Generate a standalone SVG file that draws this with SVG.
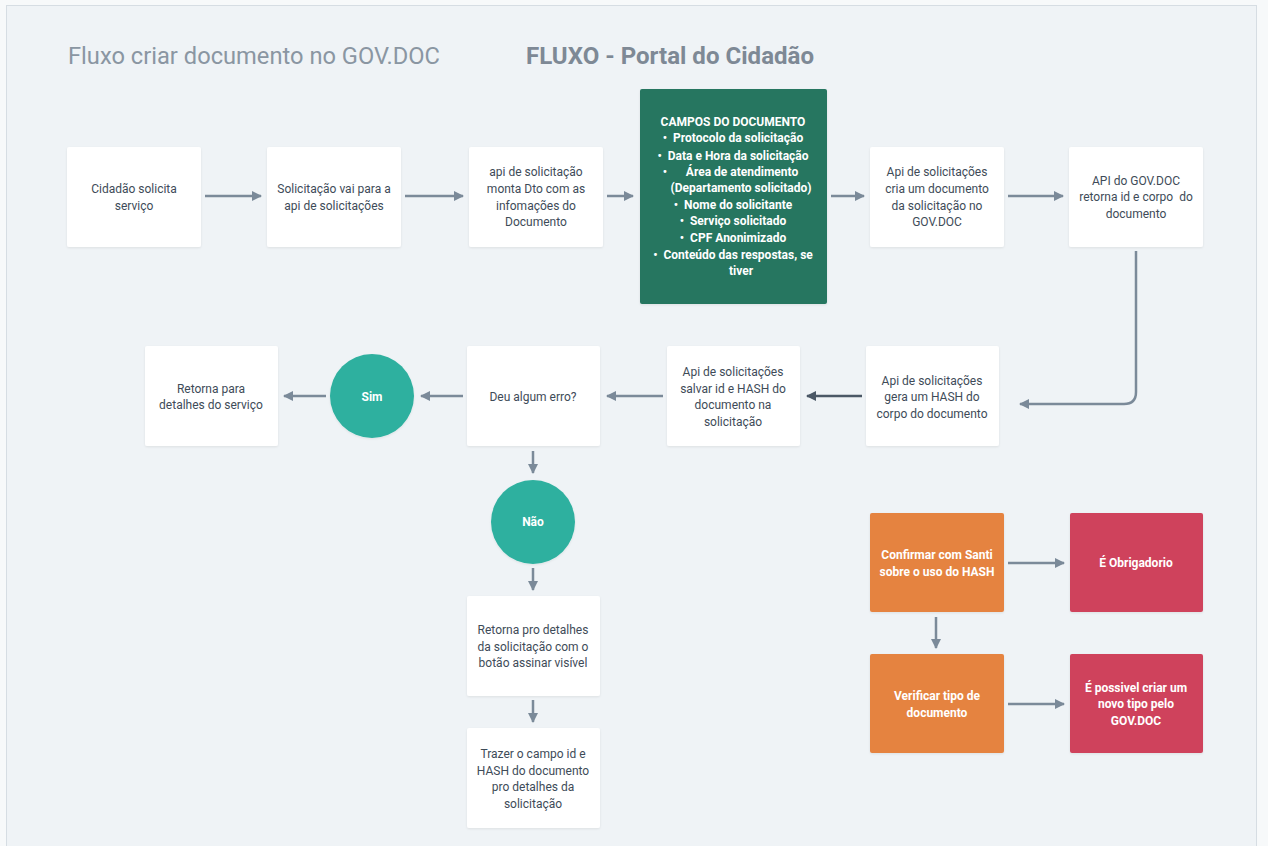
<svg xmlns="http://www.w3.org/2000/svg" width="1268" height="846" viewBox="0 0 1268 846">
<style>
.t{font-family:Roboto,"DejaVu Sans",sans-serif;font-size:12px;fill:#3e4b58;text-anchor:middle;white-space:pre}
.w{font-family:Roboto,"DejaVu Sans",sans-serif;font-size:12px;fill:#ffffff;font-weight:bold;text-anchor:middle;white-space:pre}
.box{fill:#ffffff}
.c{stroke:#7b8a99;stroke-width:2.5;fill:none;marker-end:url(#ah)}
.cd{stroke:#4b5866;stroke-width:2.5;fill:none;marker-end:url(#ahd)}
</style>
<defs>
<filter id="sh" x="-10%" y="-10%" width="120%" height="130%"><feDropShadow dx="0" dy="1" stdDeviation="1" flood-color="#000" flood-opacity="0.08"/></filter>
<marker id="ah" viewBox="0 0 10 10" refX="9" refY="5" markerWidth="4" markerHeight="4" orient="auto" markerUnits="strokeWidth"><path d="M0,0 L10,5 L0,10 z" fill="#7b8a99"/></marker>
<marker id="ahd" viewBox="0 0 10 10" refX="9" refY="5" markerWidth="4" markerHeight="4" orient="auto" markerUnits="strokeWidth"><path d="M0,0 L10,5 L0,10 z" fill="#4b5866"/></marker>
</defs>
<rect x="0" y="0" width="1268" height="846" fill="#f7f9fa"/>
<rect x="6.5" y="5.5" width="1250" height="850" fill="#eff3f6" stroke="#d6dde3"/>
<text x="68" y="64" font-family="Roboto,'DejaVu Sans Condensed',sans-serif" font-size="23" fill="#8a96a2" textLength="372" lengthAdjust="spacingAndGlyphs">Fluxo criar documento no GOV.DOC</text>
<text x="526" y="64" font-family="Roboto,'DejaVu Sans Condensed',sans-serif" font-size="23" font-weight="bold" fill="#7e8995" textLength="288" lengthAdjust="spacingAndGlyphs">FLUXO - Portal do Cidadão</text>

<g id="connectors">
<path class="c" d="M205,196 H261"/>
<path class="c" d="M405,196 H463"/>
<path class="c" d="M607,196 H633"/>
<path class="c" d="M831,196 H864"/>
<path class="c" d="M1008,196 H1063"/>
<path class="c" d="M1136,251 V392 Q1136,404 1124,404 H1020"/>
<path class="cd" d="M862,396 H807"/>
<path class="c" d="M663,396 H607"/>
<path class="c" d="M463,396 H421"/>
<path class="c" d="M326,396 H284"/>
<path class="c" d="M533,451 V473"/>
<path class="c" d="M533,568 V590"/>
<path class="c" d="M533,700 V722"/>
<path class="c" d="M1008,563 H1064"/>
<path class="c" d="M936,617 V648"/>
<path class="c" d="M1008,704 H1064"/>
</g>

<g id="n1"><rect class="box" x="67" y="147" width="134" height="100" rx="2" filter="url(#sh)"/>
<text class="t" x="134" y="193">Cidadão solicita</text><text class="t" x="134" y="210">serviço</text></g>
<g id="n2"><rect class="box" x="267" y="147" width="134" height="100" rx="2" filter="url(#sh)"/>
<text class="t" x="334" y="193">Solicitação vai para a</text><text class="t" x="334" y="210">api de solicitações</text></g>
<g id="n3"><rect class="box" x="469" y="147" width="134" height="100" rx="2" filter="url(#sh)"/>
<text class="t" x="536" y="176">api de solicitação</text><text class="t" x="536" y="193">monta Dto com as</text><text class="t" x="536" y="210">infomações do</text><text class="t" x="536" y="226">Documento</text></g>
<g id="n4"><rect x="640" y="89" width="187" height="215" rx="2" fill="#277660" filter="url(#sh)"/>
<text class="w" x="733" y="126">CAMPOS DO DOCUMENTO</text>
<text class="w" x="733" y="142">•  Protocolo da solicitação</text>
<text class="w" x="733" y="160">•  Data e Hora da solicitação</text>
<text class="w" x="665" y="176">•</text><text class="w" x="742" y="176">Área de atendimento</text>
<text class="w" x="741" y="192">(Departamento solicitado)</text>
<text class="w" x="733" y="209">•  Nome do solicitante</text>
<text class="w" x="733" y="225">•  Serviço solicitado</text>
<text class="w" x="733" y="242">•  CPF Anonimizado</text>
<text class="w" x="733" y="259">•  Conteúdo das respostas, se</text>
<text class="w" x="741" y="275">tiver</text></g>
<g id="n5"><rect class="box" x="870" y="147" width="134" height="100" rx="2" filter="url(#sh)"/>
<text class="t" x="937" y="176">Api de solicitações</text><text class="t" x="937" y="193">cria um documento</text><text class="t" x="937" y="210">da solicitação no</text><text class="t" x="937" y="226">GOV.DOC</text></g>
<g id="n6"><rect class="box" x="1069" y="147" width="134" height="100" rx="2" filter="url(#sh)"/>
<text class="t" x="1136" y="185">API do GOV.DOC</text><text class="t" x="1136" y="201">retorna id e corpo  do</text><text class="t" x="1136" y="218">documento</text></g>

<g id="n7"><rect class="box" x="866" y="346" width="133" height="100" rx="2" filter="url(#sh)"/>
<text class="t" x="932" y="385">Api de solicitações</text><text class="t" x="932" y="401">gera um HASH do</text><text class="t" x="932" y="418">corpo do documento</text></g>
<g id="n8"><rect class="box" x="667" y="346" width="133" height="100" rx="2" filter="url(#sh)"/>
<text class="t" x="733" y="376">Api de solicitações</text><text class="t" x="733" y="393">salvar id e HASH do</text><text class="t" x="733" y="409">documento na</text><text class="t" x="733" y="426">solicitação</text></g>
<g id="n9"><rect class="box" x="467" y="346" width="133" height="100" rx="2" filter="url(#sh)"/>
<text class="t" x="533" y="401">Deu algum erro?</text></g>
<g id="n10"><circle cx="372" cy="396" r="42" fill="#2eb09f" filter="url(#sh)"/>
<text class="w" x="372" y="401">Sim</text></g>
<g id="n11"><rect class="box" x="145" y="346" width="133" height="100" rx="2" filter="url(#sh)"/>
<text class="t" x="211" y="393">Retorna para</text><text class="t" x="211" y="409">detalhes do serviço</text></g>
<g id="n12"><circle cx="533" cy="522" r="42" fill="#2eb09f" filter="url(#sh)"/>
<text class="w" x="533" y="526">Não</text></g>
<g id="n13"><rect class="box" x="467" y="596" width="133" height="100" rx="2" filter="url(#sh)"/>
<text class="t" x="533" y="634">Retorna pro detalhes</text><text class="t" x="533" y="651">da solicitação com o</text><text class="t" x="533" y="667">botão assinar visível</text></g>
<g id="n14"><rect class="box" x="467" y="728" width="133" height="100" rx="2" filter="url(#sh)"/>
<text class="t" x="533" y="758">Trazer o campo id e</text><text class="t" x="533" y="775">HASH do documento</text><text class="t" x="533" y="791">pro detalhes da</text><text class="t" x="533" y="808">solicitação</text></g>

<g id="n15"><rect x="870" y="513" width="134" height="99" rx="2" fill="#e5833f" filter="url(#sh)"/>
<text class="w" x="937" y="559">Confirmar com Santi</text><text class="w" x="937" y="576">sobre o uso do HASH</text></g>
<g id="n16"><rect x="1070" y="513" width="133" height="99" rx="2" fill="#cf435c" filter="url(#sh)"/>
<text class="w" x="1136" y="567">É Obrigadorio</text></g>
<g id="n17"><rect x="870" y="654" width="134" height="99" rx="2" fill="#e5833f" filter="url(#sh)"/>
<text class="w" x="937" y="700">Verificar tipo de</text><text class="w" x="937" y="717">documento</text></g>
<g id="n18"><rect x="1070" y="654" width="133" height="99" rx="2" fill="#cf435c" filter="url(#sh)"/>
<text class="w" x="1136" y="692">É possivel criar um</text><text class="w" x="1136" y="708">novo tipo pelo</text><text class="w" x="1136" y="725">GOV.DOC</text></g>
</svg>
